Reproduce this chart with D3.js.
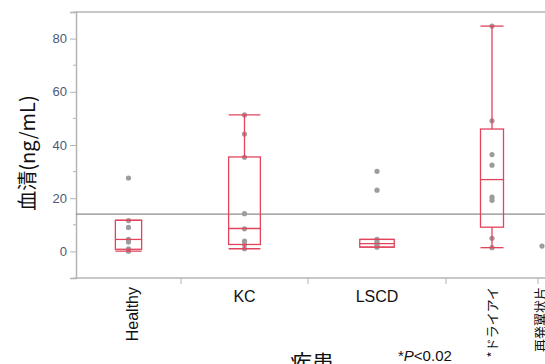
<!DOCTYPE html>
<html>
<head>
<meta charset="utf-8">
<script src="https://cdn.jsdelivr.net/npm/d3@7"></script>
<style>
  body { margin: 0; background: #fff; }
  svg { display: block; }
  text { font-family: "Liberation Sans", Arial, "Noto Sans CJK JP", sans-serif; }
  .jp { font-family: "Noto Sans CJK JP", "Liberation Sans", sans-serif; }
</style>
</head>
<body>
<div id="chart"></div>
<script>
// groups (x axis), JMP draws band widths proportional to group size
var groups = ["Healthy", "KC", "LSCD", "*ドライアイ", "再発翼状片"];
var groupWeight = [105, 127, 138, 92, 8];

// raw points (ng/mL) per group
var healthyVals = [27.6, 11.6, 9.0, 4.5, 3.5, 1.0, 0.3, 0.1];
var kcVals = [51.3, 44.1, 35.4, 14.2, 8.5, 3.9, 2.6, 1.0];
var lscdVals = [30.1, 23.0, 4.5, 3.4, 2.9, 2.2, 1.6];
var dryEyeVals = [84.7, 49.1, 36.4, 32.4, 20.4, 19.2, 4.9, 1.4];
var pterygiumVals = [2.0];

// box stats: [whiskerLo, q1, median, q3, whiskerHi]
var boxStats = [
  [0.1, 0.8, 4.5, 11.7, 11.7],
  [1.0, 2.6, 8.6, 35.5, 51.3],
  [1.6, 1.6, 2.9, 4.5, 4.5],
  [1.4, 9.1, 27.0, 46.0, 84.7],
  null
];

var refLine = 14.0;
var yTicks = [0, 20, 40, 60, 80];
var yMinorTicks = [-10, 10, 30, 50, 70, 90];

var allVals = [healthyVals, kcVals, lscdVals, dryEyeVals, pterygiumVals];

var W = 545, H = 364;
var plotLeft = 76, plotTop = 12, plotBottom = 278;

var svg = d3.select("#chart").append("svg")
  .attr("width", W).attr("height", H);

var y = d3.scaleLinear().domain([-10, 90]).range([plotBottom, plotTop]);

// cumulative band edges
var edges = [0];
groupWeight.forEach(function(w, i) { edges.push(edges[i] + w); });
var x = d3.scaleLinear()
  .domain([0, d3.sum(groupWeight)])
  .range([plotLeft, plotLeft + d3.sum(groupWeight)]);

function bandCenter(i) { return x((edges[i] + edges[i + 1]) / 2); }
function bandWidth(i) { return x(edges[i + 1]) - x(edges[i]); }

var axisColor = "#b4b4b4";
var red = "#e2445c";

// frame top
svg.append("line")
  .attr("x1", plotLeft).attr("x2", W + 10)
  .attr("y1", plotTop).attr("y2", plotTop)
  .attr("stroke", axisColor).attr("stroke-width", 1.5);

// y axis
var yAxis = d3.axisLeft(y).tickValues(yTicks).tickSize(6).tickPadding(3);
var gy = svg.append("g")
  .attr("transform", "translate(" + plotLeft + ",0)")
  .call(yAxis);
gy.select(".domain").attr("stroke", axisColor).attr("stroke-width", 1.5);
gy.selectAll(".tick line").attr("stroke", axisColor);
gy.selectAll(".tick text")
  .attr("fill", "#4b5a78")
  .style("font-size", "13px");

svg.append("g").selectAll("line")
  .data(yMinorTicks)
  .enter().append("line")
  .attr("x1", plotLeft - 3).attr("x2", plotLeft)
  .attr("y1", function(d) { return y(d); })
  .attr("y2", function(d) { return y(d); })
  .attr("stroke", axisColor);

// x axis line and separators
svg.append("line")
  .attr("x1", plotLeft).attr("x2", W + 10)
  .attr("y1", plotBottom).attr("y2", plotBottom)
  .attr("stroke", axisColor).attr("stroke-width", 1.5);

svg.append("g").selectAll("line")
  .data(edges.slice(1, -1))
  .enter().append("line")
  .attr("x1", function(d) { return x(d); })
  .attr("x2", function(d) { return x(d); })
  .attr("y1", plotBottom).attr("y2", plotBottom + 6)
  .attr("stroke", axisColor);

// reference line
svg.append("line")
  .attr("x1", plotLeft).attr("x2", W + 10)
  .attr("y1", y(refLine)).attr("y2", y(refLine))
  .attr("stroke", "#8c8c8c").attr("stroke-width", 1.2);

// points
allVals.forEach(function(vals, i) {
  svg.append("g").selectAll("circle")
    .data(vals)
    .enter().append("circle")
    .attr("cx", bandCenter(i))
    .attr("cy", function(d) { return y(d); })
    .attr("r", 2.6)
    .attr("fill", "#9c9c9c");
});

// boxes
boxStats.forEach(function(s, i) {
  if (!s) return;
  var cx = bandCenter(i);
  var bw = bandWidth(i) * 0.25;
  var g = svg.append("g")
    .attr("fill", "none")
    .attr("stroke", red)
    .attr("stroke-width", 1.3);
  // whiskers
  g.append("line").attr("x1", cx).attr("x2", cx)
    .attr("y1", y(s[3])).attr("y2", y(s[4]));
  g.append("line").attr("x1", cx).attr("x2", cx)
    .attr("y1", y(s[1])).attr("y2", y(s[0]));
  // caps
  [s[0], s[4]].forEach(function(v) {
    g.append("line")
      .attr("x1", cx - bw / 2).attr("x2", cx + bw / 2)
      .attr("y1", y(v)).attr("y2", y(v));
  });
  g.append("rect")
    .attr("x", cx - bw / 2).attr("width", bw)
    .attr("y", y(s[3])).attr("height", y(s[1]) - y(s[3]));
  g.append("line")
    .attr("x1", cx - bw / 2).attr("x2", cx + bw / 2)
    .attr("y1", y(s[2])).attr("y2", y(s[2]));
});

// x category labels: short ones flat, long ones rotated
groups.forEach(function(name, i) {
  var cx = bandCenter(i);
  if (name === "KC" || name === "LSCD") {
    svg.append("text")
      .attr("x", cx).attr("y", plotBottom + 24)
      .attr("text-anchor", "middle")
      .style("font-size", "16px")
      .attr("fill", "#111")
      .text(name);
  } else {
    var isJp = name !== "Healthy";
    var dx = isJp ? (i === 4 ? -2 : 0) : 4;
    svg.append("text")
      .attr("class", isJp ? "jp" : null)
      .attr("transform", "translate(" + (cx + dx) + "," + (plotBottom + 9) + ") rotate(-90)")
      .attr("text-anchor", "end")
      .attr("dy", "0.35em")
      .style("font-size", isJp ? "13px" : "16px")
      .attr("fill", "#111")
      .text(name);
  }
});

// axis titles
svg.append("text")
  .attr("class", "jp")
  .attr("transform", "translate(28,153) rotate(-90)")
  .attr("text-anchor", "middle")
  .attr("dy", "0.35em")
  .style("font-size", "20px")
  .attr("fill", "#111")
  .text("血清(ng/mL)");

svg.append("text")
  .attr("class", "jp")
  .attr("x", 312).attr("y", 371)
  .attr("text-anchor", "middle")
  .style("font-size", "22px")
  .attr("fill", "#111")
  .text("疾患");

var note = svg.append("text")
  .attr("x", 398).attr("y", 361)
  .style("font-size", "15px")
  .attr("fill", "#111");
note.append("tspan").text("*");
note.append("tspan").style("font-style", "italic").text("P");
note.append("tspan").text("<0.02");
</script>
</body>
</html>
